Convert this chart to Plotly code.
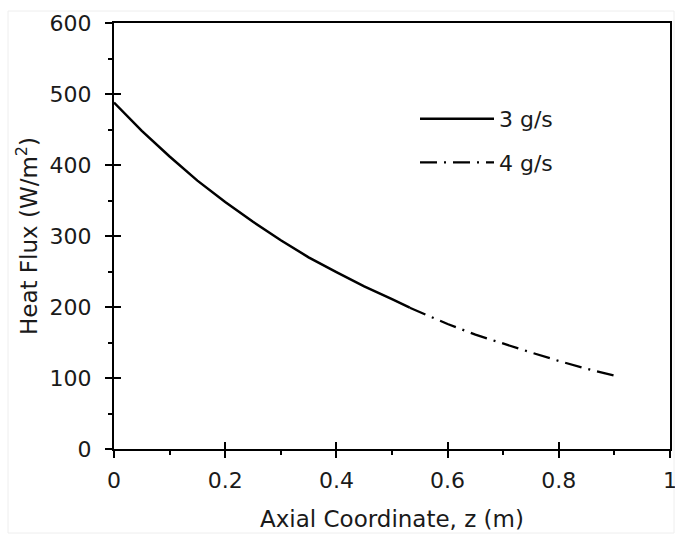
import plotly.graph_objects as go

# data
z_3gs = [0, 0.05, 0.1, 0.15, 0.2, 0.25, 0.3, 0.35, 0.4, 0.45, 0.5, 0.532]
q_3gs = [488, 448, 412, 378, 348, 320, 294, 270, 249, 229, 211, 199]
z_4gs = [0.532, 0.6, 0.65, 0.7, 0.75, 0.8, 0.85, 0.902]
q_4gs = [199, 176, 161, 148, 136, 124, 113, 103]
series_names = ["3 g/s", "4 g/s"]
x_ticks = [0, 0.2, 0.4, 0.6, 0.8, 1]
x_tick_labels = ["0", "0.2", "0.4", "0.6", "0.8", "1"]
y_ticks = [0, 100, 200, 300, 400, 500, 600]

W, H = 675, 534
L, R, T, B = 114, 5, 23, 85
pw, ph = W - L - R, H - T - B

def px_x(p):
    return (p - L) / pw

def px_y(p):
    return (H - B - p) / ph

FONT = "DejaVu Sans, sans-serif"
TXT = "#1a1a1a"

fig = go.Figure()
fig.add_trace(go.Scatter(x=z_3gs, y=q_3gs, mode="lines", name=series_names[0],
                         line=dict(color="black", width=2.5), legendgroup="a"))
fig.add_trace(go.Scatter(x=z_4gs, y=q_4gs, mode="lines", name=series_names[1],
                         line=dict(color="black", width=2.3, dash="17px,7px,2px,7px"),
                         legendgroup="b"))
# dummy trace to activate the overlay axes used for crossing ticks
fig.add_trace(go.Scatter(x=[None], y=[None], xaxis="x2", yaxis="y2",
                         showlegend=False, hoverinfo="skip"))

axis_common = dict(showgrid=False, zeroline=False, linecolor="black", linewidth=2,
                   tickcolor="black", tickwidth=2, ticklen=7, automargin=False,
                   tickfont=dict(family=FONT, size=22, color=TXT))

fig.update_layout(
    width=W, height=H,
    margin=dict(l=L, r=R, t=T, b=B),
    paper_bgcolor="white", plot_bgcolor="white",
    font=dict(family=FONT, color=TXT),
    showlegend=True,
    legend=dict(x=px_x(415), y=px_y(98), xanchor="left", yanchor="top",
                bgcolor="rgba(0,0,0,0)", font=dict(family=FONT, size=22, color=TXT),
                itemwidth=74, tracegroupgap=12),
    xaxis=dict(range=[0, 1], tickvals=x_ticks, ticktext=x_tick_labels,
               ticks="outside", mirror=True, showline=True, ticklabelstandoff=4,
               ticklabeloverflow="allow",
               minor=dict(dtick=0.1, ticks="outside", ticklen=4, tickwidth=2, tickcolor="black"),
               title=dict(text="Axial Coordinate, z (m)", font=dict(family=FONT, size=23, color=TXT), standoff=18),
               **axis_common),
    yaxis=dict(range=[0, 600], tickvals=y_ticks,
               ticks="outside", mirror=True, showline=True, ticklabelstandoff=9,
               ticklabeloverflow="allow",
               minor=dict(dtick=50, ticks="outside", ticklen=4, tickwidth=2, tickcolor="black"),
               title=dict(text="Heat Flux (W/m<sup>2</sup>)", font=dict(family=FONT, size=23, color=TXT), standoff=6),
               **axis_common),
    xaxis2=dict(overlaying="x", matches="x", anchor="y2", showgrid=False, zeroline=False,
                showline=False, showticklabels=False, ticks="inside", ticklen=7, tickwidth=2,
                tickcolor="black", tickvals=x_ticks),
    yaxis2=dict(overlaying="y", matches="y", anchor="x2", showgrid=False, zeroline=False,
                showline=False, showticklabels=False, ticks="inside", ticklen=7, tickwidth=2,
                tickcolor="black", tickvals=y_ticks),
    shapes=[dict(type="rect", xref="paper", yref="paper",
                 x0=px_x(8), x1=px_x(674), y0=px_y(533), y1=px_y(11),
                 line=dict(color="#eeeeee", width=1), layer="below")],
)

fig.write_html("out.html", config={"displayModeBar": False},
               post_script="document.body.style.margin='0px';document.body.style.overflow='hidden';")
